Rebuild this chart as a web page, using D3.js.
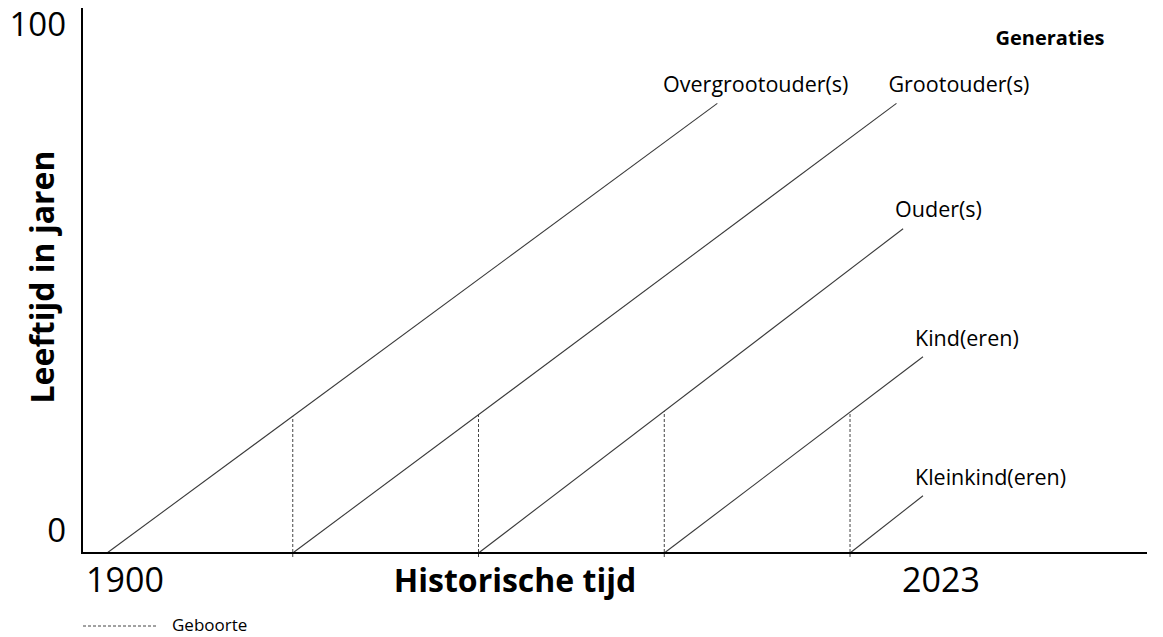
<!DOCTYPE html>
<html>
<head>
<meta charset="utf-8">
<script src="https://cdn.jsdelivr.net/npm/d3@7"></script>
<style>
    body { margin: 0; background: #fff; }
    svg { display: block; font-family: 'Open Sans', sans-serif; }
</style>
</head>
<body>
<div id="chart"></div>
<script>
// generations, drawn as life lines: birth year -> (last year, age reached)
var generations = ['Overgrootouder(s)', 'Grootouder(s)', 'Ouder(s)', 'Kind(eren)', 'Kleinkind(eren)'];
var birthYears = [1900, 1928, 1956, 1984, 2012];
var endYears = [1992, 2019, 2020, 2023, 2023];
var endAges = [82.5, 82.5, 59.5, 36, 10.5];

var yearTicks = [1900, 2023];
var ageTicks = [0, 100];

(function() {
    var width = 1163,
        height = 637,
        plotLeft = 82,
        plotRight = 1147,
        plotTop = 8,
        plotBottom = 553;

    var svg = d3.select('#chart')
        .append('svg')
        .attr('width', width)
        .attr('height', height);

    var x = d3.scaleLinear().domain([1900, 2023]).range([107, 923]);
    var y = d3.scaleLinear().domain([0, 100]).range([plotBottom, plotTop]);

    // age of the parent generation when the next one is born
    function parentAge(i) {
        var p = i - 1;
        return endAges[p] * (birthYears[i] - birthYears[p]) / (endYears[p] - birthYears[p]);
    }

    var data = generations.map(function(name, i) {
        return { name: name, birth: birthYears[i], end: endYears[i], age: endAges[i], index: i };
    });

    // birth markers
    svg.append('g')
        .selectAll('line')
        .data(data.slice(1))
        .enter()
        .append('line')
        .attr('x1', function(d) { return x(d.birth); })
        .attr('x2', function(d) { return x(d.birth); })
        .attr('y1', y(0) + 4)
        .attr('y2', function(d) { return y(parentAge(d.index)); })
        .attr('stroke', '#444')
        .attr('stroke-width', 1)
        .attr('stroke-dasharray', '3,2');

    // life lines
    var line = d3.line()
        .x(function(p) { return x(p[0]); })
        .y(function(p) { return y(p[1]); });

    svg.append('g')
        .selectAll('path')
        .data(data)
        .enter()
        .append('path')
        .attr('d', function(d) { return line([[d.birth, 0], [d.end, d.age]]); })
        .attr('fill', 'none')
        .attr('stroke', '#3a3a3a')
        .attr('stroke-width', 1.1);

    // line labels, shifted left when they would run into the next one
    var labels = svg.append('g')
        .selectAll('text')
        .data(data)
        .enter()
        .append('text')
        .attr('x', function(d) { return x(d.end) - 8; })
        .attr('y', function(d) { return y(d.age) - 17; })
        .attr('dominant-baseline', 'middle')
        .attr('font-size', 21.5)
        .attr('fill', '#000')
        .text(function(d) { return d.name; });

    var nodes = labels.nodes();
    for (var i = nodes.length - 2; i >= 0; i--) {
        var a = d3.select(nodes[i]), b = d3.select(nodes[i + 1]);
        if (Math.abs(+a.attr('y') - +b.attr('y')) < 24) {
            var maxX = +b.attr('x') - 40 - nodes[i].getComputedTextLength();
            if (+a.attr('x') > maxX) a.attr('x', maxX);
        }
    }

    // axes
    svg.append('line')
        .attr('x1', plotLeft).attr('x2', plotLeft)
        .attr('y1', plotTop).attr('y2', plotBottom + 1)
        .attr('stroke', '#000')
        .attr('stroke-width', 2);

    svg.append('line')
        .attr('x1', plotLeft - 1).attr('x2', plotRight)
        .attr('y1', plotBottom).attr('y2', plotBottom)
        .attr('stroke', '#000')
        .attr('stroke-width', 2);

    svg.append('g')
        .selectAll('text')
        .data(yearTicks)
        .enter()
        .append('text')
        .attr('x', function(d) { return x(d) + 18; })
        .attr('y', plotBottom + 30)
        .attr('text-anchor', 'middle')
        .attr('dominant-baseline', 'middle')
        .attr('font-size', 34)
        .text(function(d) { return d; });

    svg.append('g')
        .selectAll('text')
        .data(ageTicks)
        .enter()
        .append('text')
        .attr('x', plotLeft - 16)
        .attr('y', function(d) { return d === 0 ? y(d) - 20 : y(d) + 19; })
        .attr('text-anchor', 'end')
        .attr('dominant-baseline', 'middle')
        .attr('font-size', 33)
        .text(function(d) { return d; });

    // axis titles
    svg.append('text')
        .attr('x', 515)
        .attr('y', plotBottom + 30)
        .attr('text-anchor', 'middle')
        .attr('dominant-baseline', 'middle')
        .attr('font-size', 32)
        .attr('font-weight', 'bold')
        .text('Historische tijd');

    svg.append('text')
        .attr('transform', 'translate(45,277) rotate(-90)')
        .attr('text-anchor', 'middle')
        .attr('dominant-baseline', 'middle')
        .attr('font-size', 32)
        .attr('font-weight', 'bold')
        .text('Leeftijd in jaren');

    svg.append('text')
        .attr('x', 1050)
        .attr('y', 40)
        .attr('text-anchor', 'middle')
        .attr('dominant-baseline', 'middle')
        .attr('font-size', 20)
        .attr('font-weight', 'bold')
        .text('Generaties');

    // legend
    var legend = svg.append('g').attr('transform', 'translate(83,626)');

    legend.append('line')
        .attr('x1', 0).attr('x2', 74)
        .attr('y1', 0).attr('y2', 0)
        .attr('stroke', '#444')
        .attr('stroke-width', 1)
        .attr('stroke-dasharray', '3,2');

    legend.append('text')
        .attr('x', 89)
        .attr('y', 0)
        .attr('dominant-baseline', 'middle')
        .attr('font-size', 17)
        .text('Geboorte');
})();
</script>
</body>
</html>
